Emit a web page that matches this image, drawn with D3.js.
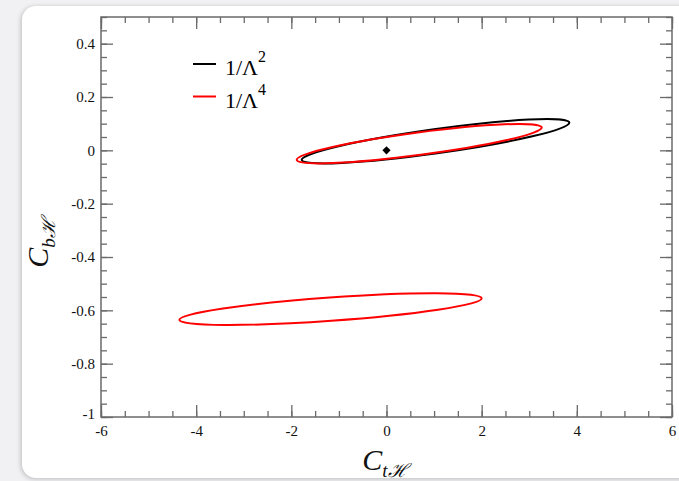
<!DOCTYPE html>
<html>
<head>
<meta charset="utf-8">
<script src="https://cdn.jsdelivr.net/npm/d3@7"></script>
<style>
  html, body { margin: 0; padding: 0; }
  body { width: 679px; height: 481px; background: #f1f1f3; position: relative; overflow: hidden; }
  .card { position: absolute; left: 22px; top: 6px; width: 720px; height: 472px; background: #fff;
          border-radius: 14px; box-shadow: -1px 1px 5px rgba(0,0,0,0.22); }
  svg { position: absolute; left: 0; top: 0; }
</style>
</head>
<body>
<div class="card"></div>
<div id="canvas"></div>
<script>
// confidence contours:
// the two ends of the long axis [C_tH, C_bH] and the half height (in C_bH) at the middle
const contourNames = ["L2", "L4", "L4b"];
const contourColors = ["#000000", "#ff0000", "#ff0000"];
const contourEndA = [[-1.782, -0.036], [-1.887, -0.036], [-4.354, -0.636]];
const contourEndB = [[3.842, 0.104], [3.262, 0.086], [2.001, -0.555]];
const contourHalfHeight = [0.0457, 0.0426, 0.0437];

const bestFit = [[0, 0]];

const xTicks = [-6, -4, -2, 0, 2, 4, 6];
const yTicks = [-1, -0.8, -0.6, -0.4, -0.2, 0, 0.2, 0.4];
const legendLabels = ["1/Λ", "1/Λ"];
const legendPowers = ["2", "4"];
const legendColors = ["#000000", "#ff0000"];

const width = 679;
const height = 481;
const margin = { top: 17, left: 101, bottom: 64, right: 7 };

const svg = d3.select("#canvas").append("svg").attr("width", width).attr("height", height);

const x = d3.scaleLinear().domain([-6, 6]).range([margin.left, width - margin.right]);
const y = d3.scaleLinear().domain([-1, 0.5]).range([height - margin.bottom, margin.top]);

const x0 = x.range()[0], x1 = x.range()[1], y0 = y.range()[0], y1 = y.range()[1];
const xMinor = d3.range(-6, 6.01, 0.5);
const yMinor = d3.range(-1, 0.501, 0.05);
const fmt = (d) => String(+d.toFixed(2));

function styleAxis(g) {
  g.select(".domain").remove();
  g.selectAll(".tick line").attr("stroke", "#6a6a6a").attr("stroke-width", 1.3);
  g.selectAll(".tick text").attr("fill", "#111").style("font-family", "'Liberation Serif', serif").style("font-size", "15px");
}

// minor ticks, all four sides
svg.append("g").attr("transform", `translate(0,${y0})`)
  .call(d3.axisBottom(x).tickValues(xMinor).tickSize(-6).tickFormat("")).call(styleAxis);
svg.append("g").attr("transform", `translate(0,${y1})`)
  .call(d3.axisTop(x).tickValues(xMinor).tickSize(-6).tickFormat("")).call(styleAxis);
svg.append("g").attr("transform", `translate(${x0},0)`)
  .call(d3.axisLeft(y).tickValues(yMinor).tickSize(-6).tickFormat("")).call(styleAxis);
svg.append("g").attr("transform", `translate(${x1},0)`)
  .call(d3.axisRight(y).tickValues(yMinor).tickSize(-6).tickFormat("")).call(styleAxis);

// major ticks
svg.append("g").attr("transform", `translate(0,${y0})`)
  .call(d3.axisBottom(x).tickValues(xTicks).tickSize(-12).tickPadding(8).tickFormat(fmt)).call(styleAxis);
svg.append("g").attr("transform", `translate(0,${y1})`)
  .call(d3.axisTop(x).tickValues(xTicks).tickSize(-12).tickFormat("")).call(styleAxis);
svg.append("g").attr("transform", `translate(${x0},0)`)
  .call(d3.axisLeft(y).tickValues(yTicks).tickSize(-12).tickPadding(6).tickFormat(fmt)).call(styleAxis);
svg.append("g").attr("transform", `translate(${x1},0)`)
  .call(d3.axisRight(y).tickValues(yTicks).tickSize(-12).tickFormat("")).call(styleAxis);

svg.selectAll("text").filter((d) => d === -1).attr("dy", "0.1em");

svg.append("rect")
  .attr("x", x0).attr("y", y1).attr("width", x1 - x0).attr("height", y0 - y1)
  .attr("fill", "none").attr("stroke", "#6a6a6a").attr("stroke-width", 1.5);

// ellipses built from the two axis ends and the half height, all through the scales
const ellipses = contourNames.map((name, i) => {
  const ax = x(contourEndA[i][0]), ay = y(contourEndA[i][1]);
  const bx = x(contourEndB[i][0]), by = y(contourEndB[i][1]);
  const ang = Math.atan2(by - ay, bx - ax);
  const hh = y(0) - y(contourHalfHeight[i]);
  return {
    name, color: contourColors[i],
    cx: (ax + bx) / 2, cy: (ay + by) / 2,
    rx: Math.hypot(bx - ax, by - ay) / 2,
    ry: hh * Math.cos(ang),
    deg: (ang * 180) / Math.PI
  };
});

svg.selectAll(".contour").data(ellipses).enter().append("ellipse")
  .attr("class", "contour")
  .attr("transform", (d) => `translate(${d.cx},${d.cy}) rotate(${d.deg})`)
  .attr("rx", (d) => d.rx).attr("ry", (d) => d.ry)
  .attr("fill", "none").attr("stroke", (d) => d.color).attr("stroke-width", 2);

svg.selectAll(".pt").data(bestFit).enter().append("path")
  .attr("class", "pt")
  .attr("transform", (d) => `translate(${x(d[0])},${y(d[1])}) rotate(45)`)
  .attr("d", d3.symbol(d3.symbolSquare, 34))
  .attr("fill", "#000");

// legend
const leg = svg.append("g").attr("transform", "translate(193,64)");
legendLabels.forEach((lab, i) => {
  const g = leg.append("g").attr("transform", `translate(0,${i * 32.5})`);
  g.append("line").attr("x1", 0).attr("x2", 23).attr("stroke", legendColors[i]).attr("stroke-width", 2);
  const t = g.append("text").attr("x", 32).attr("y", 11)
    .style("font-family", "'Liberation Serif', serif").style("font-size", "22px").attr("fill", "#000");
  t.append("tspan").text(lab);
  t.append("tspan").attr("dy", -13).style("font-size", "16px").text(legendPowers[i]);
});

// axis titles
const xt = svg.append("text").attr("x", 385).attr("y", 470).attr("text-anchor", "middle")
  .style("font-family", "'Liberation Serif', serif").style("font-size", "30px").attr("fill", "#111");
xt.append("tspan").style("font-style", "italic").text("C");
xt.append("tspan").attr("dy", 7).style("font-size", "19px").style("font-style", "italic").text("tℋ");

const yt = svg.append("text").attr("transform", "translate(48,243) rotate(-90)").attr("text-anchor", "middle")
  .style("font-family", "'Liberation Serif', serif").style("font-size", "30px").attr("fill", "#111");
yt.append("tspan").style("font-style", "italic").text("C");
yt.append("tspan").attr("dy", 7).style("font-size", "19px").style("font-style", "italic").text("bℋ");
</script>
</body>
</html>
